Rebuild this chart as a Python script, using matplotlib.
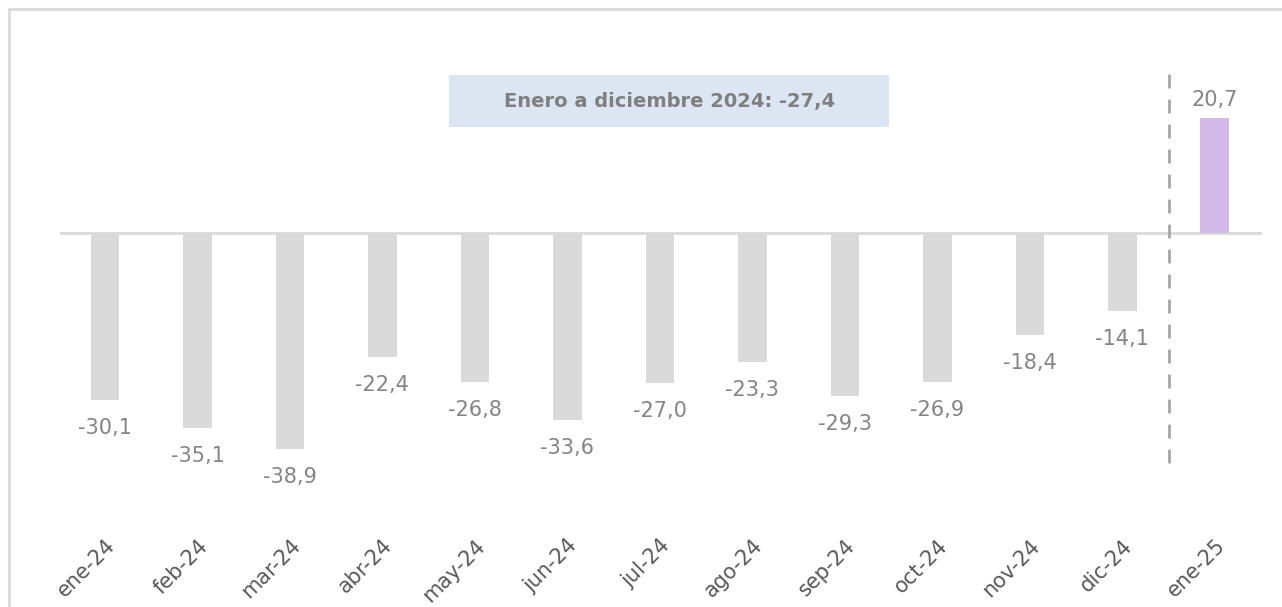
import matplotlib.pyplot as plt
from matplotlib.patches import Rectangle

months = ['ene-24', 'feb-24', 'mar-24', 'abr-24', 'may-24', 'jun-24', 'jul-24',
          'ago-24', 'sep-24', 'oct-24', 'nov-24', 'dic-24', 'ene-25']
values = [-30.1, -35.1, -38.9, -22.4, -26.8, -33.6, -27.0,
          -23.3, -29.3, -26.9, -18.4, -14.1, 20.7]
box_text = 'Enero a diciembre 2024: -27,4'

W, H = 1282, 607
fig = plt.figure(figsize=(W / 100, H / 100), dpi=100)
plt.rcParams['font.family'] = ['DejaVu Sans']

# outer border (only top/left visible)
fig.patches.append(Rectangle((9 / W, -0.1), 1.2, 1 - 9 / H + 0.1, transform=fig.transFigure,
                             fill=False, edgecolor='#d9d9d9', linewidth=2, zorder=0))

# axes placed in pixels: left 60, right 1262, top 10, bottom 530
ax = fig.add_axes([60 / W, (H - 530) / H, 1202 / W, 520 / H])
ax.set_xlim(-0.486, 12.51)
ax.set_ylim(-53.5, 40.2)
for s in ax.spines.values():
    s.set_visible(False)
ax.set_yticks([])

x = list(range(len(months)))
colors = ['#d9d9d9'] * (len(months) - 1) + ['#d4b8e8']
ax.bar(x, values, width=0.31, color=colors, zorder=2)
ax.axhline(0, color='#d9d9d9', linewidth=2, zorder=1)

gray = '#858585'
for xi, v in zip(x, values):
    lbl = f'{v:.1f}'.replace('.', ',')
    if v < 0:
        ax.annotate(lbl, (xi, v), xytext=(0, -13), textcoords='offset points',
                    ha='center', va='top', fontsize=15, color=gray)
    else:
        ax.annotate(lbl, (xi, v), xytext=(0, 6), textcoords='offset points',
                    ha='center', va='bottom', fontsize=15, color=gray)

ax.vlines(11.5, -41.4, 30.6, colors='#a6a6a6', linestyles=(0, (5, 4)), linewidth=2, zorder=3)

# annotation box
bx, by, bw, bh = 6.1, 23.8, 4.76, 9.37
ax.add_patch(Rectangle((bx - bw / 2, by - bh / 2), bw, bh, facecolor='#dce6f2',
                       edgecolor='none', zorder=3))
ax.text(bx, by, box_text, ha='center', va='center', fontsize=14, fontweight='bold',
        color='#7f7f7f', zorder=4)

ax.set_xticks(x)
ax.set_xticklabels(months, rotation=45, ha='right', rotation_mode='anchor',
                   fontsize=15, color='#595959')
ax.tick_params(axis='x', length=0, pad=4)

fig.savefig('out.png', dpi=100, facecolor='white')
